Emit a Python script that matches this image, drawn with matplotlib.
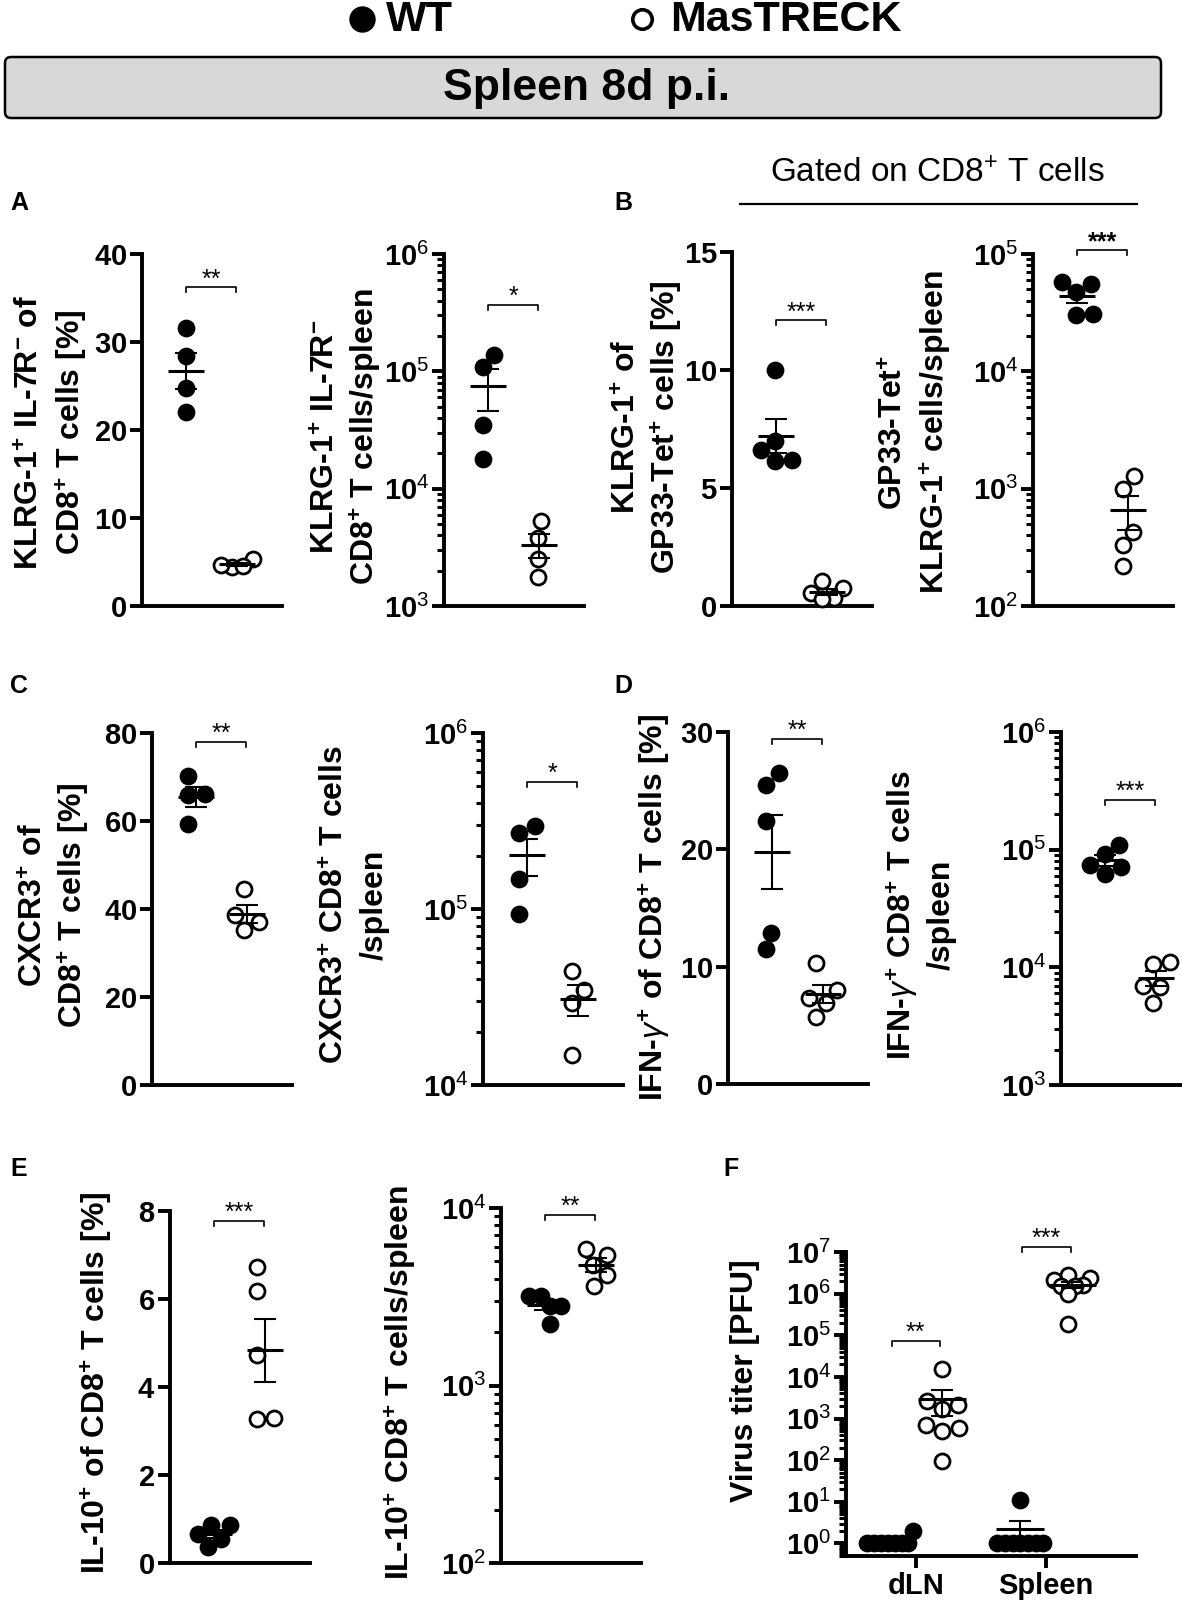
import numpy as np
import matplotlib
matplotlib.use('Agg')
import matplotlib.pyplot as plt
from matplotlib.patches import FancyBboxPatch
from matplotlib.ticker import (FuncFormatter, LogLocator, NullFormatter, MultipleLocator,
                               NullLocator, FixedLocator)

W, H = 1182, 1609
DPI = 100

plt.rcParams['font.family'] = ['Liberation Sans', 'DejaVu Sans']
plt.rcParams['mathtext.fontset'] = 'custom'
plt.rcParams['mathtext.rm'] = 'Liberation Sans'
plt.rcParams['mathtext.bf'] = 'Liberation Sans:bold'
plt.rcParams['mathtext.it'] = 'Liberation Sans:italic'
plt.rcParams['mathtext.sf'] = 'Liberation Sans'

# ---------------- data ----------------
groups = ['WT', 'MasTRECK']
a1_wt = [31.6, 28.4, 24.8, 22.1]
a1_mt = [4.4, 5.3, 4.7, 4.5]
a2_wt = [1.08e5, 1.39e5, 3.5e4, 1.8e4]
a2_mt = [5.3e3, 3.8e3, 2.5e3, 1.75e3]
b1_wt = [10.0, 6.15, 6.6, 7.0, 6.2]
b1_mt = [1.05, 0.75, 0.35, 0.55, 0.3]
b2_wt = [5.5e4, 5.8e4, 4.7e4, 3.0e4, 3.1e4]
b2_mt = [1.29e3, 1.0e3, 4.3e2, 3.3e2, 2.2e2]
c1_wt = [70.3, 66.2, 65.8, 59.4]
c1_mt = [44.6, 38.6, 37.0, 35.2]
c2_wt = [2.72e5, 2.97e5, 1.48e5, 9.4e4]
c2_mt = [4.45e4, 3.45e4, 2.93e4, 1.48e4]
d1_wt = [26.5, 25.5, 22.4, 12.9, 11.5]
d1_mt = [10.3, 8.0, 7.3, 6.9, 5.7]
d2_wt = [1.1e5, 9.2e4, 7.4e4, 7.1e4, 6.2e4]
d2_mt = [1.07e4, 1.12e4, 7.0e3, 6.8e3, 5.0e3]
e1_wt = [0.86, 0.86, 0.55, 0.65, 0.36]
e1_mt = [6.73, 6.18, 4.73, 3.27, 3.29]
e2_wt = [3.19e3, 3.19e3, 2.82e3, 2.8e3, 2.22e3]
e2_mt = [5.88e3, 5.43e3, 4.8e3, 4.22e3, 3.63e3]
f_sites = ['dLN', 'Spleen']
f_dln_wt = [2, 1, 1, 1, 1, 1, 1, 1]
f_dln_mt = [1.56e4, 2.6e3, 2.14e3, 1.66e3, 690, 590, 490, 97]
f_spl_wt = [11, 1, 1, 1, 1, 1, 1, 1]
f_spl_mt = [2.8e6, 2.4e6, 2.1e6, 1.6e6, 1.5e6, 1.5e6, 1.0e6, 1.9e5]

# ---------------- helpers ----------------
fig = plt.figure(figsize=(W / DPI, H / DPI), dpi=DPI)
ax0 = fig.add_axes([0, 0, 1, 1])
ax0.set_xlim(0, W)
ax0.set_ylim(H, 0)
ax0.axis('off')


def add_ax(l, t, r, b):
    return fig.add_axes([l / W, 1 - b / H, (r - l) / W, (b - t) / H])


def swarm_offsets(ypx, dmin, maxhalf):
    ypx = np.asarray(ypx, float)
    order = np.argsort(ypx)
    placed = []
    xs = np.zeros(len(ypx))
    for i in order:
        y = ypx[i]
        cands = [0.0]
        for (px, py) in placed:
            dy = y - py
            if abs(dy) < dmin:
                dx = np.sqrt(dmin ** 2 - dy ** 2)
                cands += [px + dx, px - dx]
        cands = sorted(cands, key=lambda c: (round(abs(c), 6), -c))
        for c in cands:
            if all((c - px) ** 2 + (y - py) ** 2 >= dmin ** 2 - 1e-6 for px, py in placed):
                xs[i] = c
                break
        placed.append((xs[i], y))
    xs -= (xs.max() + xs.min()) / 2
    m = np.max(np.abs(xs))
    if m > maxhalf:
        xs *= maxhalf / m
    return xs


LW_SP = 2.8


def style_axis(ax, ylim, log, step=None, fs=21):
    for s in ['top', 'right']:
        ax.spines[s].set_visible(False)
    for s in ['left', 'bottom']:
        ax.spines[s].set_linewidth(LW_SP)
        ax.spines[s].set_capstyle('projecting')
    if log:
        ax.set_yscale('log')
        lo = int(np.ceil(np.log10(ylim[0]) - 1e-9))
        hi = int(np.floor(np.log10(ylim[1]) + 1e-9))
        ax.yaxis.set_major_locator(FixedLocator([10.0 ** k for k in range(lo, hi + 1)]))
        minors = [m * 10.0 ** k for k in range(lo - 1, hi) for m in range(2, 10)
                  if ylim[0] <= m * 10.0 ** k <= ylim[1]]
        ax.yaxis.set_minor_locator(FixedLocator(minors))
        ax.yaxis.set_minor_formatter(NullFormatter())
        ax.yaxis.set_major_formatter(FuncFormatter(
            lambda v, p: r'$\mathbf{10}^{%d}$' % int(round(np.log10(v)))))
    else:
        ax.yaxis.set_major_locator(MultipleLocator(step))
        ax.yaxis.set_major_formatter(FuncFormatter(lambda v, p: r'$\mathbf{%d}$' % int(round(v))))
    ax.set_ylim(*ylim)
    ax.tick_params(axis='y', which='major', length=8.5, width=LW_SP, labelsize=fs, pad=2)
    ax.tick_params(axis='y', which='minor', length=5, width=2.2)


MS = 10.8
MEW = 2.0


def draw_group(ax, xc, vals, filled, ppu, hpx, ylim, log, maxhalf, mean_hw, cap_hw):
    v = np.asarray(vals, float)
    f = np.log10 if log else (lambda z: z)
    ypx = (f(v) - f(ylim[0])) / (f(ylim[1]) - f(ylim[0])) * hpx
    diam = (MS + MEW) * DPI / 72
    offs = swarm_offsets(ypx, diam * 0.97, maxhalf)
    ax.plot(xc + offs / ppu, v, 'o', ms=MS, mfc='black' if filled else 'white',
            mec='black', mew=MEW, ls='none', clip_on=False, zorder=3)
    m = v.mean()
    s = v.std(ddof=1) / np.sqrt(len(v))
    kw = dict(color='black', clip_on=False, zorder=4, solid_capstyle='butt')
    ax.plot([xc - mean_hw / ppu, xc + mean_hw / ppu], [m, m], lw=2.2, **kw)
    ax.plot([xc, xc], [m - s, m + s], lw=1.5, **kw)
    ax.plot([xc - cap_hw / ppu, xc + cap_hw / ppu], [m + s, m + s], lw=1.5, **kw)
    ax.plot([xc - cap_hw / ppu, xc + cap_hw / ppu], [m - s, m - s], lw=1.5, **kw)


def bracket(ax, x0, x1, y, stars, hpx, ylim, log, bold=False):
    f = np.log10 if log else (lambda z: z)
    finv = (lambda z: 10 ** z) if log else (lambda z: z)
    per_px = (f(ylim[1]) - f(ylim[0])) / hpx
    ydn = finv(f(y) - 5 * per_px)
    ax.plot([x0, x0, x1, x1], [ydn, y, y, ydn], color='black', lw=1.2, clip_on=False, zorder=5)
    ytxt = finv(f(y) + 1 * per_px)
    ax.text((x0 + x1) / 2, ytxt, stars, ha='center', va='baseline', fontsize=18,
            fontweight='bold' if bold else 'normal', clip_on=False)


def ylabel_lines(x_list, y, lines, fs=23):
    for x, line in zip(x_list, lines):
        ax0.text(x, y, line, rotation=90, ha='center', va='center', fontsize=fs,
                 fontweight='bold')


# ---------------- header ----------------
ax0.plot([362], [19], 'o', ms=17, mfc='black', mec='black', mew=2)
ax0.text(386, 20, groups[0], fontsize=31, fontweight='bold', ha='left', va='center')
ax0.plot([642], [19], 'o', ms=14, mfc='white', mec='black', mew=2.6)
ax0.text(670, 20, groups[1], fontsize=31, fontweight='bold', ha='left', va='center')
box = FancyBboxPatch((5, 57), 1156, 61, boxstyle='round,pad=0,rounding_size=6',
                     facecolor='#d8d8d8', edgecolor='black', lw=1.8)
ax0.add_patch(box)
ax0.text(587, 88, 'Spleen 8d p.i.', fontsize=32, fontweight='bold', ha='center', va='center')

ax0.text(937, 174, 'Gated on CD8$^{+}$ T cells', fontsize=24, ha='center', va='center')
ax0.plot([740, 1137], [204, 204], color='black', lw=1.6)

for lab, (x, y) in zip('ABCDEF', [(10, 203), (614, 203), (10, 686), (614, 686), (10, 1169), (723, 1169)]):
    ax0.text(x, y, lab, fontsize=18, fontweight='bold', ha='left', va='center')

# ---------------- two-group panels ----------------
PPU = 51.0     # pixels per category unit
X0 = 0.13      # left x limit
panels = [
    dict(rect=(142, 254, 282, 606), wt=a1_wt, mt=a1_mt, ylim=(0, 40), log=False, step=10,
         lines=['KLRG-1$^{\\mathbf{+}}$ IL-7R$^{\\mathbf{-}}$ of', 'CD8$^{\\mathbf{+}}$ T cells [%]'],
         lx=(31, 72), ly=432, sig=36.2, stars='**'),
    dict(rect=(444, 254, 584, 606), wt=a2_wt, mt=a2_mt, ylim=(1e3, 1e6), log=True,
         lines=['KLRG-1$^{\\mathbf{+}}$ IL-7R$^{\\mathbf{-}}$', 'CD8$^{\\mathbf{+}}$ T cells/spleen'],
         lx=(327, 366), ly=437, sig=3.7e5, stars='*'),
    dict(rect=(732, 252, 872, 606), wt=b1_wt, mt=b1_mt, ylim=(0, 15), log=False, step=5,
         lines=['KLRG-1$^{\\mathbf{+}}$ of', 'GP33-Tet$^{\\mathbf{+}}$ cells [%]'],
         lx=(628, 667), ly=427, sig=12.1, stars='***'),
    dict(rect=(1033, 254, 1173, 606), wt=b2_wt, mt=b2_mt, ylim=(1e2, 1e5), log=True,
         lines=['GP33-Tet$^{\\mathbf{+}}$', 'KLRG-1$^{\\mathbf{+}}$ cells/spleen'],
         lx=(895, 936), ly=432, sig=1.08e5, stars='***', bold=True),
    dict(rect=(152, 733, 292, 1085), wt=c1_wt, mt=c1_mt, ylim=(0, 80), log=False, step=20,
         lines=['CXCR3$^{\\mathbf{+}}$ of', 'CD8$^{\\mathbf{+}}$ T cells [%]'],
         lx=(35, 74), ly=905, sig=78, stars='**'),
    dict(rect=(483, 733, 623, 1085), wt=c2_wt, mt=c2_mt, ylim=(1e4, 1e6), log=True,
         lines=['CXCR3$^{\\mathbf{+}}$ CD8$^{\\mathbf{+}}$ T cells', '/spleen'],
         lx=(336, 375), ly=905, sig=5.3e5, stars='*'),
    dict(rect=(728, 732, 868, 1084), wt=d1_wt, mt=d1_mt, ylim=(0, 30), log=False, step=10,
         lines=['IFN-$\\gamma^{\\mathbf{+}}$ of CD8$^{\\mathbf{+}}$ T cells [%]'],
         lx=(655,), ly=907, sig=29.4, stars='**'),
    dict(rect=(1061, 732, 1180, 1085), wt=d2_wt, mt=d2_mt, ylim=(1e3, 1e6), log=True,
         lines=['IFN-$\\gamma^{\\mathbf{+}}$ CD8$^{\\mathbf{+}}$ T cells', '/spleen'],
         lx=(903, 942), ly=915, sig=2.65e5, stars='***'),
    dict(rect=(170, 1211, 310, 1563), wt=e1_wt, mt=e1_mt, ylim=(0, 8), log=False, step=2,
         lines=['IL-10$^{\\mathbf{+}}$ of CD8$^{\\mathbf{+}}$ T cells [%]'],
         lx=(97,), ly=1383, sig=7.77, stars='***'),
    dict(rect=(501, 1208, 641, 1563), wt=e2_wt, mt=e2_mt, ylim=(1e2, 1e4), log=True,
         lines=['IL-10$^{\\mathbf{+}}$ CD8$^{\\mathbf{+}}$ T cells/spleen'],
         lx=(401,), ly=1383, sig=9.1e3, stars='**'),
]

for p in panels:
    l, t, r, b = p['rect']
    ax = add_ax(l, t, r, b)
    style_axis(ax, p['ylim'], p['log'], p.get('step'))
    wpx, hpx = r - l, b - t
    ax.set_xlim(X0, X0 + wpx / PPU)
    ax.xaxis.set_major_locator(NullLocator())
    ax.xaxis.set_minor_locator(NullLocator())
    draw_group(ax, 1, p['wt'], True, PPU, hpx, p['ylim'], p['log'], 16, 18, 11)
    draw_group(ax, 2, p['mt'], False, PPU, hpx, p['ylim'], p['log'], 16, 18, 11)
    bracket(ax, 1.0, 1.98, p['sig'], p['stars'], hpx, p['ylim'], p['log'], p.get('bold', False))
    ylabel_lines(p['lx'], p['ly'], p['lines'])

# ---------------- panel F ----------------
FL, FT, FR, FB = 846, 1252, 1136, 1556
FYL = (0.5, 1e7)
FPPU = 130.0
FXL = (0.46, 0.46 + (FR - FL) / FPPU)
axf = add_ax(FL, FT, FR, FB)
style_axis(axf, FYL, True)
axf.set_xlim(*FXL)
axf.set_xticks([1, 2])
axf.set_xticklabels(f_sites, fontsize=21, fontweight='bold')
axf.xaxis.set_minor_locator(NullLocator())
axf.tick_params(axis='x', which='major', length=8.5, width=LW_SP, pad=3, direction='out')
fh = FB - FT
for xc, wt, mt in [(1, f_dln_wt, f_dln_mt), (2, f_spl_wt, f_spl_mt)]:
    draw_group(axf, xc - 0.2, wt, True, FPPU, fh, FYL, True, 23, 24, 11)
    draw_group(axf, xc + 0.2, mt, False, FPPU, fh, FYL, True, 18, 24, 11)
bracket(axf, 0.81, 1.18, 7.3e4, '**', fh, FYL, True)
bracket(axf, 1.81, 2.19, 1.33e7, '***', fh, FYL, True)
ylabel_lines((745,), 1381, ['Virus titer [PFU]'])

fig.savefig('out.png', dpi=DPI)
